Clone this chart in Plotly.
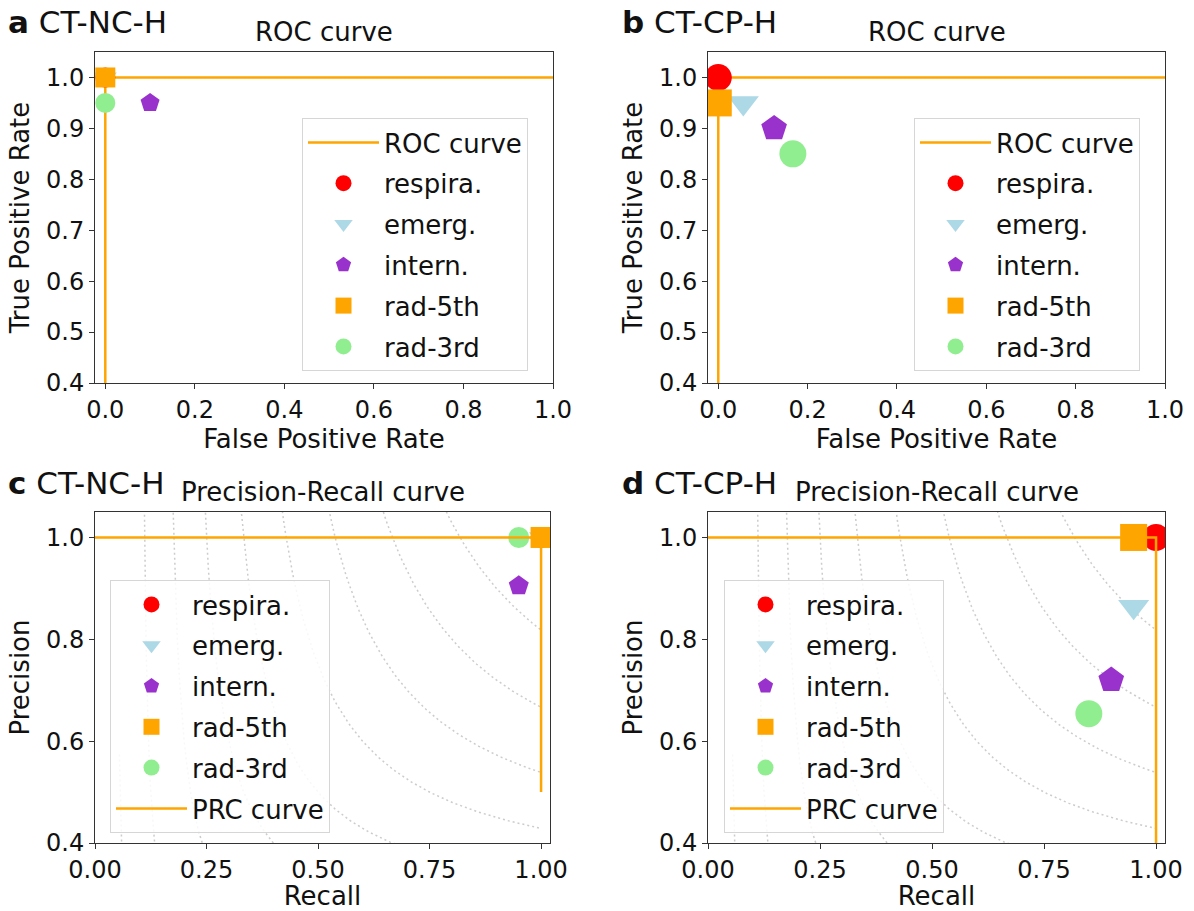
import numpy as np
import plotly.graph_objects as go

W, H = 1194, 911
FONT = "DejaVu Sans"

# readers / raters shown as operating points
methods = ["respira.", "emerg.", "intern.", "rad-5th", "rad-3rd"]
colors = ["#ff0000", "#add8e6", "#9932cc", "#ffa500", "#90ee90"]
symbols = ["circle", "triangle-down", "pentagon", "square", "circle"]

# ROC operating points (false positive rate, true positive rate)
nc_fpr = [0.0, 0.0, 0.1, 0.0, 0.0]
nc_tpr = [1.0, 1.0, 0.95, 1.0, 0.95]
cp_fpr = [0.0, 0.056, 0.125, 0.0, 0.167]
cp_tpr = [1.0, 0.95, 0.90, 0.95, 0.85]

# precision-recall operating points
nc_recall = [1.0, 1.0, 0.95, 1.0, 0.95]
nc_precision = [1.0, 1.0, 0.905, 1.0, 1.0]
cp_recall = [1.0, 0.95, 0.90, 0.95, 0.85]
cp_precision = [1.0, 0.864, 0.72, 1.0, 0.654]

# model curves
roc_fpr = [0.0, 0.0, 1.0]
nc_roc_tpr = [0.0, 1.0, 1.0]
cp_roc_tpr = [0.0, 1.0, 1.0]
prc_recall = [0.0, 1.0, 1.0]
nc_prc_precision = [1.0, 1.0, 0.5]
cp_prc_precision = [1.0, 1.0, 0.4]

# iso-F1 reference levels
f1_levels = [0.1, 0.2, 0.3, 0.4, 0.5, 0.6, 0.7, 0.8, 0.9]

roc_ticks = [0.0, 0.2, 0.4, 0.6, 0.8, 1.0]
roc_yticks = [0.4, 0.5, 0.6, 0.7, 0.8, 0.9, 1.0]
pr_ticks = [0.0, 0.25, 0.5, 0.75, 1.0]
pr_yticks = [0.4, 0.6, 0.8, 1.0]

ORANGE = "#ffa500"


def dx(l, r):
    return [l / W, r / W]


def dy(t, b):
    return [1 - b / H, 1 - t / H]


fig = go.Figure()

panels = [
    # key, xaxis, yaxis, legend, kind, pts x, pts y, curve x, curve y, marker size
    ("a", "x", "y", "legend", "roc", nc_fpr, nc_tpr, roc_fpr, nc_roc_tpr, 20),
    ("b", "x2", "y2", "legend2", "roc", cp_fpr, cp_tpr, roc_fpr, cp_roc_tpr, 27),
    ("c", "x3", "y3", "legend3", "pr", nc_recall, nc_precision, prc_recall, nc_prc_precision, 21),
    ("d", "x4", "y4", "legend4", "pr", cp_recall, cp_precision, prc_recall, cp_prc_precision, 27),
]

for key, xa, ya, lg, kind, px, py, cx, cy, msize in panels:
    if kind == "pr":
        for f in f1_levels:
            xs = np.linspace(0.01, 1.0, 200)
            with np.errstate(divide="ignore", invalid="ignore"):
                ys = f * xs / (2 * xs - f)
            keep = (xs > f / 2) & (ys >= 0)
            fig.add_trace(go.Scatter(
                x=xs[keep], y=ys[keep], mode="lines", xaxis=xa, yaxis=ya,
                line=dict(color="rgba(128,128,128,0.4)", width=1.5, dash="2px,3px"),
                showlegend=False, hoverinfo="skip"))
    curve = go.Scatter(
        x=cx, y=cy, mode="lines", xaxis=xa, yaxis=ya, legend=lg,
        name="ROC curve" if kind == "roc" else "PRC curve",
        legendgroup=key + "curve",
        line=dict(color=ORANGE, width=2.5))
    if kind == "roc":
        fig.add_trace(curve)
    for i, m in enumerate(methods):
        fig.add_trace(go.Scatter(
            x=[px[i]], y=[py[i]], mode="markers", xaxis=xa, yaxis=ya,
            legend=lg, name=m, legendgroup=key + m,
            marker=dict(symbol=symbols[i], color=colors[i], size=msize,
                        line=dict(width=0))))
    if kind == "pr":
        fig.add_trace(curve)

axis_common = dict(
    showline=True, linecolor="#333333", linewidth=1, mirror=True,
    ticks="outside", ticklen=5, tickwidth=1, tickcolor="#333333",
    showgrid=False, zeroline=False, automargin=False,
    tickfont=dict(family=FONT, size=24, color="#111111"),
    title_font=dict(family=FONT, size=26, color="#111111"),
)

boxes = {
    "a": (95, 553, 52, 383),
    "b": (708, 1165, 52, 383),
    "c": (95, 550, 512, 843),
    "d": (708, 1165, 512, 843),
}

layout = dict(
    width=W, height=H, margin=dict(l=0, r=0, t=0, b=0),
    plot_bgcolor="white", paper_bgcolor="white",
    font=dict(family=FONT, size=26, color="#111111"),
)

names = [("a", "xaxis", "yaxis", "y", "x"), ("b", "xaxis2", "yaxis2", "y2", "x2"),
         ("c", "xaxis3", "yaxis3", "y3", "x3"), ("d", "xaxis4", "yaxis4", "y4", "x4")]
for key, xk, yk, yanchor, xanchor in names:
    l, r, t, b = boxes[key]
    if key in ("a", "b"):
        xr, xt, xtt = [-0.023, 1.0], roc_ticks, [f"{v:.1f}" for v in roc_ticks]
        yr, yt, ytt = [0.4, 1.05], roc_yticks, [f"{v:.1f}" for v in roc_yticks]
        xtitle, ytitle = "False Positive Rate", "True Positive Rate"
    else:
        xr, xt, xtt = [0.0, 1.02], pr_ticks, [f"{v:.2f}" for v in pr_ticks]
        yr, yt, ytt = [0.4, 1.05], pr_yticks, [f"{v:.1f}" for v in pr_yticks]
        xtitle, ytitle = "Recall", "Precision"
    layout[xk] = dict(axis_common, domain=dx(l, r), anchor=yanchor, range=xr,
                      tickvals=xt, ticktext=xtt,
                      title=dict(text=xtitle, standoff=2))
    layout[yk] = dict(axis_common, domain=dy(t, b), anchor=xanchor, range=yr,
                      tickvals=yt, ticktext=ytt,
                      title=dict(text=ytitle, standoff=8))

legend_style = dict(
    bgcolor="rgba(255,255,255,0.85)", bordercolor="#d6d6d6", borderwidth=1,
    font=dict(family=FONT, size=26, color="#111111"),
    xanchor="left", yanchor="top", itemwidth=71, tracegroupgap=4,
    itemclick=False, itemdoubleclick=False,
)
legend_pos = {"legend": (302, 118), "legend2": (914, 118),
              "legend3": (110, 580), "legend4": (724, 580)}
for lg, (lx, ly) in legend_pos.items():
    layout[lg] = dict(legend_style, x=lx / W, y=1 - ly / H)

fig.update_layout(**layout)

# subplot titles
titles = [("x", "y", "ROC curve"), ("x2", "y2", "ROC curve"),
          ("x3", "y3", "Precision-Recall curve"), ("x4", "y4", "Precision-Recall curve")]
for xa, ya, txt in titles:
    fig.add_annotation(text=txt, xref=f"{xa} domain", yref=f"{ya} domain",
                       x=0.5, y=1.0, xanchor="center", yanchor="bottom",
                       yshift=3, showarrow=False,
                       font=dict(family=FONT, size=26, color="#111111"))

# panel letters
letters = [("a", "CT-NC-H", 6, 2), ("b", "CT-CP-H", 620, 2),
           ("c", "CT-NC-H", 6, 463), ("d", "CT-CP-H", 620, 463)]
for ch, name, lx, ly in letters:
    fig.add_annotation(text=f"<b>{ch}</b> {name}", xref="paper", yref="paper",
                       x=lx / W, y=1 - ly / H, xanchor="left", yanchor="top",
                       showarrow=False,
                       font=dict(family=FONT, size=31, color="#111111"))

fig.write_html("out.html")
